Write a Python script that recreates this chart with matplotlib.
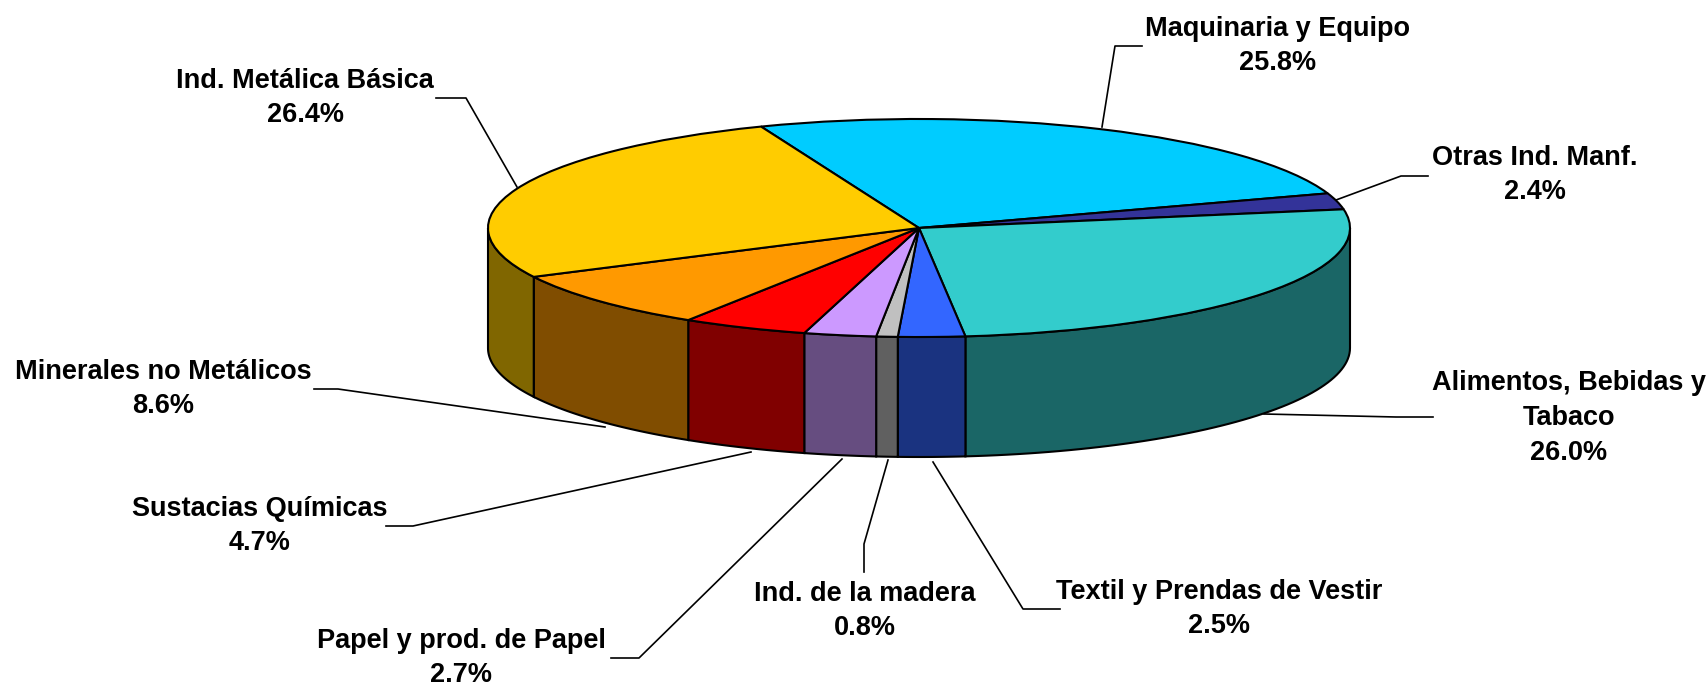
import numpy as np
from matplotlib import pyplot as plt

W, H = 1708, 685

# data, clockwise from the top
names = ['Maquinaria y Equipo', 'Otras Ind. Manf.', 'Alimentos, Bebidas y\nTabaco',
         'Textil y Prendas de Vestir', 'Ind. de la madera', 'Papel y prod. de Papel',
         'Sustacias Químicas', 'Minerales no Metálicos', 'Ind. Metálica Básica']
shares = [25.8, 2.4, 26.0, 2.5, 0.8, 2.7, 4.7, 8.6, 26.4]
colors = ['#00CCFF', '#333399', '#33CCCC', '#3366FF', '#C0C0C0',
          '#CC99FF', '#FF0000', '#FF9900', '#FFCC00']

# label centres and leader lines, in pixels of the picture
label_xy = [(1278, 46), (1535, 175), (1569, 418), (1219, 609), (865, 611),
            (461, 658), (260, 526), (163, 389), (305, 98)]
leaders = [[(1142, 46), (1115, 46), (1102, 127)],
           [(1428, 176), (1401, 176), (1336, 200)],
           [(1433, 417), (1396, 417), (1264, 414)],
           [(1060, 609), (1023, 609), (933, 462)],
           [(864, 572), (864, 544), (888, 460)],
           [(611, 658), (639, 658), (842, 459)],
           [(386, 526), (413, 526), (751, 452)],
           [(314, 389), (338, 389), (605, 427)],
           [(436, 98), (466, 98), (517, 187)]]

# pie ellipse in pixels
cx, cy = 919, 228
rx, ry = 431, 109
depth = 120 / ry


def darker(c):
    r, g, b = plt.matplotlib.colors.to_rgb(c)
    return (r * 0.5, g * 0.5, b * 0.5)


def to_data(x, y):
    return (x - cx) / rx, (cy - y) / ry


fig = plt.figure(figsize=(W / 100, H / 100), dpi=100)
ax = fig.add_axes([0, 0, 1, 1])

wedges, _ = ax.pie(shares, colors=colors, startangle=111.5, counterclock=False,
                   wedgeprops={'edgecolor': 'black', 'linewidth': 1.5, 'zorder': 5})
ax.set_aspect('auto')
ax.set_xlim(to_data(0, 0)[0], to_data(W, 0)[0])
ax.set_ylim(to_data(0, H)[1], to_data(0, 0)[1])

# side wall, only the front half of the rim shows
for w, c in zip(wedges, colors):
    for k in (-360, 0, 360):
        a = max(w.theta1 + k, 180)
        b = min(w.theta2 + k, 360)
        if b <= a:
            continue
        t = np.radians(np.linspace(a, b, 60))
        xs = np.cos(t)
        ys = np.sin(t)
        ax.fill(np.r_[xs, xs[::-1]], np.r_[ys, ys[::-1] - depth], fc=darker(c),
                ec='black', lw=1.5, zorder=3)

for pts in leaders:
    xy = [to_data(*p) for p in pts]
    ax.plot([p[0] for p in xy], [p[1] for p in xy], color='black', lw=1.2, zorder=2)

for name, val, (x, y) in zip(names, shares, label_xy):
    lx, ly = to_data(x, y)
    ax.text(lx, ly, '%s\n%.1f%%' % (name, val), ha='center', va='center',
            family='Liberation Sans', weight='bold', fontsize=19.5, linespacing=1.43)

fig.savefig('out.png', dpi=100)
